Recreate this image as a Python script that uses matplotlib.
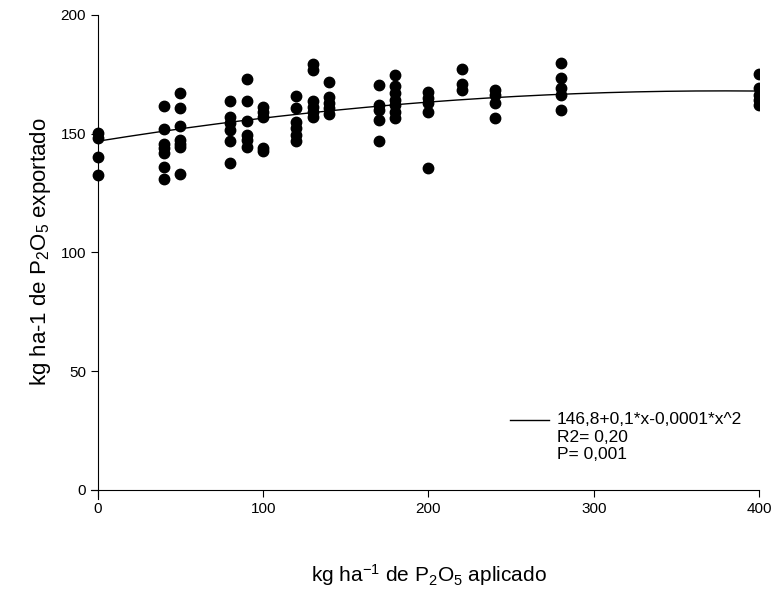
import numpy as np
import matplotlib.pyplot as plt

plt.rcParams['font.family'] = ['Liberation Sans', 'DejaVu Sans']
plt.rcParams['mathtext.fontset'] = 'custom'
plt.rcParams['mathtext.rm'] = 'Liberation Sans'
plt.rcParams['mathtext.it'] = 'Liberation Sans:italic'

# doses de P2O5 aplicado (kg/ha) e P2O5 exportado
dose = [0, 0, 0, 0,
        40, 40, 40, 40, 40, 40, 40,
        50, 50, 50, 50, 50, 50, 50,
        80, 80, 80, 80, 80, 80,
        90, 90, 90, 90, 90, 90,
        100, 100, 100, 100, 100,
        120, 120, 120, 120, 120, 120,
        130, 130, 130, 130, 130, 130,
        140, 140, 140, 140, 140,
        170, 170, 170, 170, 170,
        180, 180, 180, 180, 180, 180, 180,
        200, 200, 200, 200, 200,
        220, 220, 220,
        240, 240, 240, 240,
        280, 280, 280, 280, 280,
        400, 400, 400, 400, 400]
exportado = [150.4, 148.1, 140.3, 132.6,
             161.7, 151.9, 145.6, 143.9, 141.8, 136.1, 130.8,
             167.3, 160.7, 153.0, 147.4, 145.6, 144.2, 133.1,
             163.9, 157.2, 154.4, 151.6, 146.7, 137.6,
             173.1, 163.9, 155.4, 149.5, 147.4, 144.3,
             161.4, 159.3, 157.2, 143.9, 142.8,
             166.0, 160.7, 155.1, 152.3, 149.5, 146.7,
             179.4, 176.6, 163.9, 161.4, 159.3, 157.2,
             171.7, 165.3, 162.8, 160.7, 158.3,
             170.5, 162.1, 160.0, 155.8, 147.1,
             174.7, 170.2, 167.0, 164.2, 162.1, 159.3, 156.5,
             167.7, 164.9, 162.8, 159.3, 135.4,
             177.1, 170.9, 168.4,
             168.4, 166.3, 162.8, 156.5,
             179.9, 173.3, 169.1, 166.3, 160.0,
             175.2, 169.1, 166.3, 164.2, 162.1]

# coeficientes do ajuste quadratico (146,8+0,1*x-0,0001*x^2)
coef = [146.8, 0.112, -0.000148]

fig = plt.figure(figsize=(7.73, 6.09), dpi=100)
ax = fig.add_axes([0.118, 0.180, 0.864, 0.7956])

ax.plot(dose, exportado, 'o', color='black', ms=7.5, zorder=3)

xc = np.linspace(0, 400, 200)
yc = coef[0] + coef[1]*xc + coef[2]*xc**2
ax.plot(xc, yc, color='black', lw=1)

ax.set_xlim(-4, 400)
ax.set_ylim(-4, 200)
ax.spines['left'].set_position(('data', 0))
ax.spines['bottom'].set_position(('data', 0))
ax.spines['top'].set_visible(False)
ax.spines['right'].set_visible(False)
ax.set_xticks([0, 100, 200, 300, 400])
ax.set_yticks([0, 50, 100, 150, 200])
ax.tick_params(direction='out', length=5, labelsize=11)

# legenda manual
ax.text(0.697, 0.180, '146,8+0,1*x-0,0001*x^2\nR2= 0,20\nP= 0,001',
        transform=ax.transAxes, fontsize=12.5, va='top', ha='left',
        linespacing=1.2)
ax.plot([0.627, 0.686], [0.164, 0.164], transform=ax.transAxes, color='black', lw=1)

fig.text(0.555, 0.045, r'kg ha$^{\mathrm{-1}}$ de P$_2$O$_5$ aplicado', ha='center', fontsize=15)
fig.text(0.052, 0.586, r'kg ha-1 de P$_2$O$_5$ exportado', rotation=90,
         va='center', ha='center', fontsize=16)

fig.savefig('out.png', dpi=100)
